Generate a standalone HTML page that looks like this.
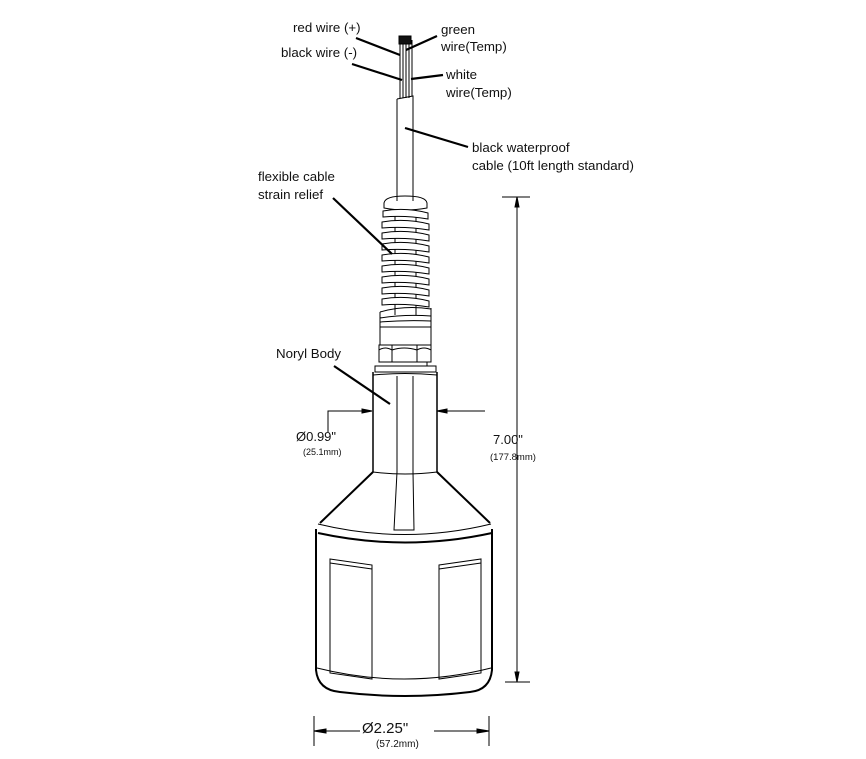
<!DOCTYPE html>
<html><head><meta charset="utf-8"><style>
html,body{margin:0;padding:0;background:#fff}
svg{display:block}
text{font-family:"Liberation Sans",sans-serif;font-size:13.3px;fill:#111}
</style></head><body>
<svg width="866" height="759" viewBox="0 0 866 759" xmlns="http://www.w3.org/2000/svg">
<g fill="none" stroke="#000" stroke-width="1">
<!-- wires -->
<rect x="399" y="36" width="12" height="8" fill="#111"/>
<line x1="400" y1="44" x2="400" y2="98"/>
<line x1="403" y1="44" x2="403" y2="98"/>
<line x1="406" y1="44" x2="406" y2="98"/>
<line x1="409" y1="44" x2="409" y2="98"/>
<line x1="412" y1="40" x2="412" y2="96"/>
<!-- cable -->
<path d="M397,99 L413,96 L413,200 M397,99 L397,200"/>
<!-- spring cap -->
<path d="M384,203 Q385,196 405,196 Q426,196 427,203 L427,208 Q405,212 384,208 Z" fill="#fff"/>
<path d="M397,196 L397,201 M413,196 L413,201"/>
<!-- core lines -->
<line x1="395" y1="210" x2="395" y2="315"/>
<line x1="416" y1="210" x2="416" y2="315"/>
<!-- coils -->
<g fill="#fff">
<path d="M383,211 Q405,207 428,213 L428,219 Q405,215 383,217 Z"/>
<path d="M382,222 Q405,218 429,224 L429,230 Q405,226 382,228 Z"/>
<path d="M382,233 Q405,229 429,235 L429,241 Q405,237 382,239 Z"/>
<path d="M382,244 Q405,240 429,246 L429,252 Q405,248 382,250 Z"/>
<path d="M382,255 Q405,251 429,257 L429,263 Q405,259 382,261 Z"/>
<path d="M382,266 Q405,262 429,268 L429,274 Q405,270 382,272 Z"/>
<path d="M382,277 Q405,273 429,279 L429,285 Q405,281 382,283 Z"/>
<path d="M382,288 Q405,284 429,290 L429,296 Q405,292 382,294 Z"/>
<path d="M382,299 Q405,295 429,301 L429,307 Q405,303 382,305 Z"/>
</g>
<!-- threaded body -->
<path d="M380,312 L380,345 M431,308 L431,345"/>
<path d="M380,312 Q405,305 431,309 M380,318 Q405,314 431,316 M380,322 Q405,320 431,321 M380,327 L431,327"/>
<!-- nut -->
<path d="M379,345 L431,345 L431,362 L379,362 Z M392,345 L392,362 M417,345 L417,362"/>
<path d="M379,350 Q385,346 392,350 Q404,346 417,350 Q424,346 431,350"/>
<!-- washer -->
<path d="M375,366 L436,366 L436,372 L375,372 Z M383,362 L427,362 L427,366"/>
<!-- neck -->
<path d="M373,372 L373,472 M437,372 L437,472" stroke-width="1.5"/>
<path d="M373,375 Q405,372 437,375"/>
<line x1="397" y1="376" x2="397" y2="472"/>
<line x1="413" y1="376" x2="413" y2="472"/>
<!-- cone -->
<path d="M373,472 L320,523 M437,472 L490,523" stroke-width="2"/>
<path d="M373,472 Q405,476 437,472"/>
<path d="M397,472 L394,530 L414,530 L413,472"/>
<path d="M318,524 Q405,545 491,524"/>
<path d="M318,533 Q405,552 492,533" stroke-width="2"/>
<!-- lower body -->
<path d="M316,529 L316,670 Q318,690 340,692 Q405,700 470,692 Q490,690 492,670 L492,529" stroke-width="2"/>
<path d="M317,668 Q405,690 491,668"/>
<path d="M330,559 L372,565 L372,679 L330,673 Z"/>
<path d="M330,563 L372,569"/>
<path d="M439,565 L481,559 L481,673 L439,679 Z"/>
<path d="M439,569 L481,563"/>
<!-- vertical dimension -->
<line x1="517" y1="197" x2="517" y2="682"/>
<line x1="502" y1="197" x2="530" y2="197"/>
<line x1="505" y1="682" x2="530" y2="682"/>
<path d="M515,207 L517,197 L519,207 Z" fill="#000"/>
<path d="M515,672 L517,682 L519,672 Z" fill="#000"/>
<!-- bottom dimension -->
<line x1="314" y1="716" x2="314" y2="746"/>
<line x1="489" y1="716" x2="489" y2="746"/>
<line x1="314" y1="731" x2="360" y2="731"/>
<line x1="434" y1="731" x2="489" y2="731"/>
<path d="M314,731 L326,729 L326,733 Z M489,731 L477,729 L477,733 Z" fill="#000"/>
<!-- 0.99 dimension -->
<path d="M328,432 L328,411 L372,411"/>
<path d="M372,411 L362,409 L362,413 Z" fill="#000"/>
<line x1="437" y1="411" x2="485" y2="411"/>
<path d="M437,411 L447,409 L447,413 Z" fill="#000"/>
<!-- leaders -->
<g stroke-width="2.2">
<line x1="356" y1="38" x2="400" y2="55"/>
<line x1="352" y1="64" x2="402" y2="80"/>
<line x1="437" y1="36" x2="406" y2="50"/>
<line x1="443" y1="75" x2="411" y2="79"/>
<line x1="405" y1="128" x2="468" y2="147"/>
<line x1="333" y1="198" x2="392" y2="254"/>
<line x1="334" y1="366" x2="390" y2="404"/>
</g>
</g>
<text x="293" y="32">red wire (+)</text>
<text x="281" y="57">black wire (-)</text>
<text x="441" y="34">green</text>
<text x="441" y="51">wire(Temp)</text>
<text x="446" y="79">white</text>
<text x="446" y="97">wire(Temp)</text>
<text x="472" y="152">black waterproof</text>
<text x="472" y="170">cable (10ft length  standard)</text>
<text x="258" y="181">flexible cable</text>
<text x="258" y="199">strain relief</text>
<text x="276" y="358">Noryl Body</text>
<text x="296" y="441" style="font-size:13px">Ø0.99"</text>
<text x="303" y="455" style="font-size:9px">(25.1mm)</text>
<text x="493" y="444" style="font-size:13px">7.00"</text>
<text x="490" y="460" style="font-size:9.5px">(177.8mm)</text>
<text x="362" y="733" style="font-size:15px">Ø2.25"</text>
<text x="376" y="747" style="font-size:10px">(57.2mm)</text>
</svg>
</body></html>
